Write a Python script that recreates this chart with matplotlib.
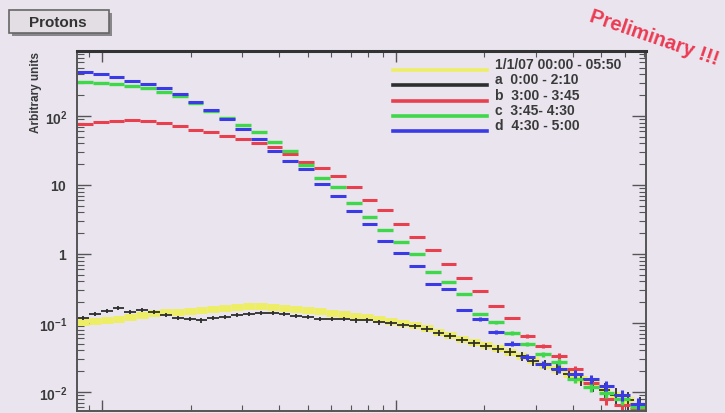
import numpy as np
import matplotlib.pyplot as plt
from matplotlib.patches import Rectangle
from matplotlib.ticker import LogLocator, NullFormatter, FixedLocator

plt.rcParams['font.family'] = ['Liberation Sans', 'DejaVu Sans']
plt.rcParams['mathtext.fontset'] = 'custom'
plt.rcParams['mathtext.bf'] = 'Liberation Sans:bold'
plt.rcParams['mathtext.rm'] = 'Liberation Sans'

W, H = 725, 414

# histogram binning (kinetic energy, log bins)
XMIN, XMAX = 0.082, 7.1
N_COARSE = 36
N_FINE = 48

# period d 4:30 - 5:00
blue_vals = [434, 406, 367, 321, 291, 255, 208, 160, 122, 90.5, 64.8, 46.4,
             31.1, 22.3, 17.1, 10.3, 6.93, 4.20, 2.72, 1.54, 1.03, 0.67,
             0.367, 0.311, 0.154, 0.114, 0.074, 0.050, 0.032, 0.0255, 0.0216,
             0.0182, 0.0154, 0.0122, 0.0091, 0.0067]
# period c 3:45 - 4:30
green_vals = [311, 301, 291, 272, 255, 223, 195, 154, 118, 93.5, 74.1, 58.6,
              42.0, 31.1, 19.5, 12.6, 9.35, 5.48, 3.44, 2.23, 1.49, 1.0,
              0.548, 0.393, 0.263, 0.135, 0.103, 0.0716, 0.0497, 0.0356,
              0.0272, 0.0154, 0.0118, 0.0097, 0.0079, 0.0061]
# period b 3:00 - 3:45
red_vals = [76.5, 81.8, 84.6, 87.5, 84.6, 79.2, 71.6, 62.7, 58.6, 51.3, 46.4,
            40.6, 35.6, 28.1, 21.5, 17.6, 13.5, 9.35, 6.07, 4.35, 2.72, 1.76,
            1.14, 0.716, 0.449, 0.291, 0.176, 0.118, 0.0649, 0.0465, 0.0333,
            0.0216, 0.0135, 0.0079, 0.0065, 0.0057]
# period a 0:00 - 2:10
black_vals = [0.118, 0.135, 0.149, 0.165, 0.144, 0.154, 0.144, 0.131, 0.118,
              0.114, 0.110, 0.118, 0.122, 0.131, 0.135, 0.140, 0.140, 0.135,
              0.126, 0.122, 0.114, 0.114, 0.114, 0.110, 0.110, 0.103, 0.100,
              0.0935, 0.0905, 0.0819, 0.0716, 0.0649, 0.0568, 0.0513, 0.0465,
              0.0420, 0.0380, 0.0333, 0.0281, 0.0246, 0.0216, 0.0182, 0.0154,
              0.0131, 0.0107, 0.0091, 0.0077, 0.0063]
# whole day 1/1/07 00:00 - 05:50
yellow_vals = [0.103, 0.107, 0.110, 0.114, 0.122, 0.131, 0.140, 0.144, 0.144,
               0.149, 0.154, 0.160, 0.165, 0.171, 0.176, 0.176, 0.171, 0.165,
               0.160, 0.154, 0.149, 0.140, 0.135, 0.126, 0.122, 0.114, 0.107,
               0.100, 0.0935, 0.0847, 0.0741, 0.0670, 0.0586, 0.0531, 0.0480,
               0.0434, 0.0380, 0.0333, 0.0291, 0.0246, 0.0216, 0.0182, 0.0154,
               0.0131, 0.0110, 0.0091, 0.0077, 0.0063]

legend_labels = ['1/1/07 00:00 - 05:50', 'a  0:00 - 2:10', 'b  3:00 - 3:45',
                 'c  3:45- 4:30', 'd  4:30 - 5:00']
colors = ['#eeee66', '#2e2e2e', '#e8404e', '#3ed84a', '#3a3ae6']

bg = '#e9e4ee'
fig = plt.figure(figsize=(W / 100, H / 100), dpi=100, facecolor=bg)


def px(x, y):
    # pixel position (from top-left) to figure fraction
    return x / W, 1 - y / H


ax = fig.add_axes([77 / W, 1 - 412 / H, 569 / W, 360 / H], facecolor=bg)
ax.set_xscale('log')
ax.set_yscale('log')
ax.set_xlim(XMIN, XMAX)
ax.set_ylim(0.0053, 875)

edges_c = np.geomspace(XMIN, XMAX, N_COARSE + 1)
edges_f = np.geomspace(XMIN, XMAX, N_FINE + 1)


def draw(vals, edges, color, lw, norm=None):
    vals = np.asarray(vals)
    xc = np.sqrt(edges[:-1] * edges[1:])
    yerr = None if norm is None else np.sqrt(vals / norm)
    ax.errorbar(xc, vals, xerr=[xc - edges[:-1], edges[1:] - xc], yerr=yerr,
                fmt='none', ecolor=color, elinewidth=lw, capsize=0)


draw(yellow_vals, edges_f, colors[0], 5)
draw(black_vals, edges_f, colors[1], 1.3, norm=1500)
draw(red_vals, edges_c, colors[2], 2.2, norm=4000)
draw(green_vals, edges_c, colors[3], 2.4, norm=4000)
draw(blue_vals, edges_c, colors[4], 2.2, norm=3000)

# ROOT-like frame and ticks
for s in ax.spines.values():
    s.set_color('#555555')
    s.set_linewidth(1.4)
ax.spines['top'].set_linewidth(2.2)
ax.spines['top'].set_color('#333333')

ax.xaxis.set_major_locator(FixedLocator([0.1, 1]))
ax.xaxis.set_minor_locator(LogLocator(base=10, subs=np.arange(2, 10)))
ax.xaxis.set_major_formatter(NullFormatter())
ax.xaxis.set_minor_formatter(NullFormatter())
ax.yaxis.set_major_locator(LogLocator(base=10, numticks=10))
ax.yaxis.set_minor_locator(LogLocator(base=10, subs=np.arange(2, 10), numticks=20))
ax.yaxis.set_minor_formatter(NullFormatter())
ax.set_yticks([0.01, 0.1, 1, 10, 100])
ax.set_yticklabels([r'$\mathbf{10^{-2}}$', r'$\mathbf{10^{-1}}$', r'$\mathbf{1}$',
                    r'$\mathbf{10}$', r'$\mathbf{10^{2}}$'])
ax.tick_params(axis='both', which='both', direction='in', top=True, right=True,
               color='#555555', labelcolor='#3a3a3a')
ax.tick_params(axis='y', which='major', length=10, width=1.0, pad=7, labelsize=10)
ax.tick_params(axis='y', which='minor', length=5, width=0.8)
ax.tick_params(axis='x', which='major', length=8, width=1.0)
ax.tick_params(axis='x', which='minor', length=4, width=0.8)

ax.set_ylabel('Arbitrary units', loc='top', fontsize=8.5, fontweight='bold',
              color='#3a3a3a')
ax.yaxis.set_label_coords(-0.062, 1.0)

# legend drawn ROOT-style, no frame
for i, (lab, c) in enumerate(zip(legend_labels, colors)):
    ly = 71 + 15.3 * i
    x0, y0 = px(393, ly)
    x1, _ = px(487, ly)
    fig.add_artist(plt.Line2D([x0, x1], [y0, y0], color=c, lw=2.6))
    tx, ty = px(495, ly - 6)
    fig.text(tx, ty, lab, fontsize=10, fontweight='bold', color='#3a3a3a',
             ha='left', va='center')

# title box
sx, sy = px(12, 37)
fig.add_artist(Rectangle((sx, sy), 100 / W, 23 / H, transform=fig.transFigure,
                         facecolor='#8a868c', edgecolor='none'))
bx, by = px(9, 34)
fig.add_artist(Rectangle((bx, by), 100 / W, 23 / H, transform=fig.transFigure,
                         facecolor='#e2dee4', edgecolor='#666666', lw=1.2))
tx, ty = px(58, 23)
fig.text(tx, ty, 'Protons', fontsize=11, fontweight='bold', color='#333333',
         ha='center', va='center')

tx, ty = px(590, 16)
fig.text(tx, ty, 'Preliminary !!!', fontsize=14.5, fontweight='bold',
         color='#ec3a52', rotation=-19, rotation_mode='anchor',
         ha='left', va='center')

fig.savefig('out.png', dpi=100, facecolor=bg)
